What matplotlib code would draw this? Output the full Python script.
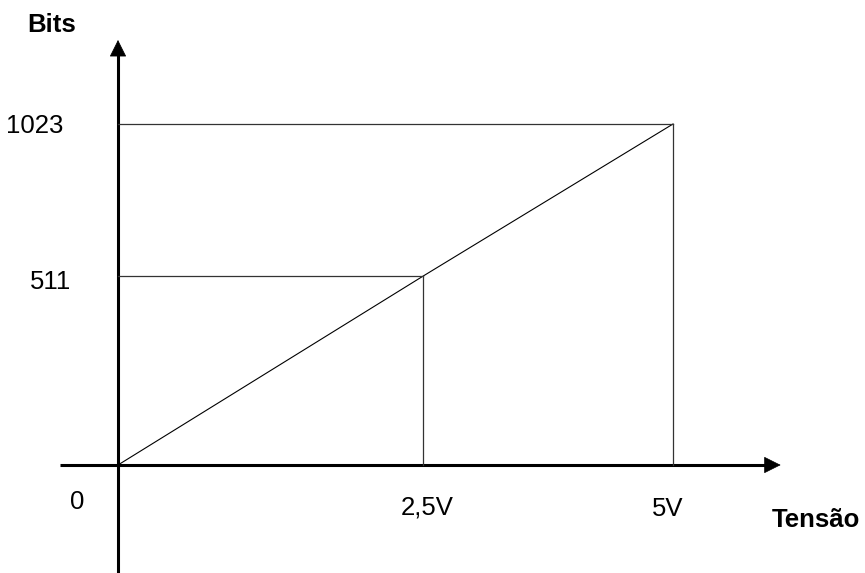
import matplotlib.pyplot as plt

plt.rcParams['font.family'] = ['Liberation Sans', 'DejaVu Sans']

# pontos da reta (posição como desenhada no esquema)
tensao = [0, 2.75, 5]
bits = [0, 567, 1023]
rot_x = ['0', '2,5V', '5V']
rot_y = ['511', '1023']

fig = plt.figure(figsize=(8.65, 5.73), dpi=100)
ax = fig.add_axes([0, 0, 1, 1])
ax.set_xlim(-118 / 111, (865 - 118) / 111)
ax.set_ylim(-324, 1395)
ax.axis('off')

# eixos com seta
ax.plot([-0.52, 5.85], [0, 0], color='black', lw=2.2, solid_capstyle='butt')
ax.plot([0, 0], [-330, 1230], color='black', lw=2.2, solid_capstyle='butt')
seta = dict(arrowstyle='-|>,head_length=1.1,head_width=0.55',
            color='black', lw=0.5, shrinkA=0, shrinkB=0)
ax.annotate('', xy=(5.97, 0), xytext=(5.8, 0), arrowprops=seta)
ax.annotate('', xy=(0, 1275), xytext=(0, 1220), arrowprops=seta)

# reta e linhas de referência
ax.plot(tensao, bits, color='black', lw=0.8)
for v, b in zip(tensao[1:], bits[1:]):
    ax.plot([0, v], [b, b], color='#333333', lw=0.9)
    ax.plot([v, v], [0, b], color='#333333', lw=0.9)

fs = 18.5
ax.text(-0.369, -111, rot_x[0], ha='center', va='center', fontsize=fs)
ax.text(2.784, -129, rot_x[1], ha='center', va='center', fontsize=fs)
ax.text(4.95, -132, rot_x[2], ha='center', va='center', fontsize=fs)
ax.text(-0.604, 549, rot_y[0], ha='center', va='center', fontsize=fs)
ax.text(-0.748, 1017, rot_y[1], ha='center', va='center', fontsize=fs)
ax.text(-0.595, 1320, 'Bits', ha='center', va='center', fontsize=fs,
        fontweight='bold')
ax.text(6.29, -165, 'Tensão', ha='center', va='center', fontsize=fs,
        fontweight='bold')

fig.savefig('out.png', dpi=100)
